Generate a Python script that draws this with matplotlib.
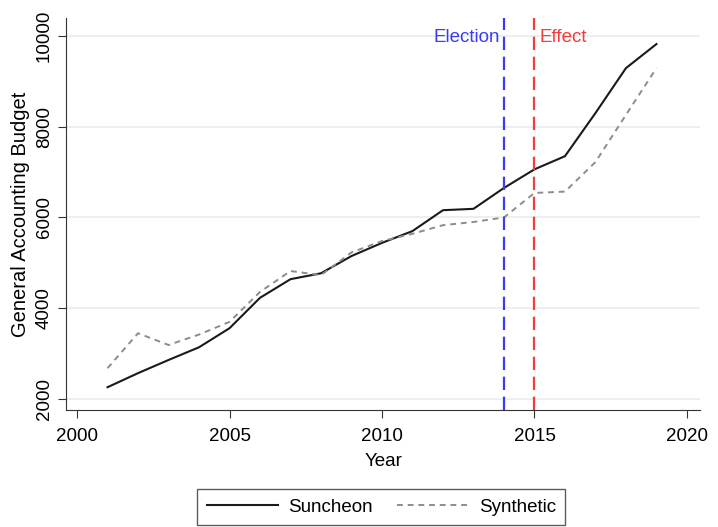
import matplotlib
matplotlib.use("Agg")
import matplotlib.pyplot as plt

plt.rcParams["font.family"] = ["Liberation Sans", "DejaVu Sans"]

years = list(range(2001, 2020))
suncheon = [2260, 2570, 2860, 3140, 3560, 4230, 4640, 4770, 5150, 5440,
            5700, 6160, 6190, 6650, 7060, 7350, 8300, 9290, 9820]
synthetic = [2680, 3450, 3190, 3420, 3700, 4360, 4820, 4730, 5230, 5480,
             5640, 5830, 5900, 6000, 6540, 6570, 7220, 8260, 9290]

election_year = 2014
effect_year = 2015

fig = plt.figure(figsize=(7.18, 5.27), dpi=100)
ax = fig.add_axes([0.092, 0.222, 0.883, 0.744])

ax.grid(axis="y", color="#e6eef0", linewidth=1.2)
ax.set_axisbelow(True)

ax.plot(years, suncheon, color="#1a1a1a", linewidth=1.5, label="Suncheon")
ax.plot(years, synthetic, color="#8c8c8c", linewidth=1.4, linestyle=(0, (3, 2.5)),
        label="Synthetic")

ax.axvline(election_year, color="#3b3bf5", linewidth=1.6, linestyle=(0, (6, 3)))
ax.axvline(effect_year, color="#f53b3b", linewidth=1.6, linestyle=(0, (6, 3)))
ax.text(election_year - 0.12, 9960, "Election", color="#3b3bf5", fontsize=13.5,
        ha="right", va="center")
ax.text(effect_year + 0.18, 9960, "Effect", color="#f53b3b", fontsize=13.5,
        ha="left", va="center")

ax.set_xlim(1999.64, 2020.43)
ax.set_ylim(1758, 10396)
ax.set_xticks([2000, 2005, 2010, 2015, 2020])
ax.set_yticks([2000, 4000, 6000, 8000, 10000])
ax.tick_params(axis="both", labelsize=13.5, color="#333333", length=6)
ax.tick_params(axis="x", pad=7)
for lab in ax.get_yticklabels():
    lab.set_rotation(90)
    lab.set_va("center")

ax.spines["top"].set_visible(False)
ax.spines["right"].set_visible(False)
ax.spines["left"].set_color("#333333")
ax.spines["bottom"].set_color("#333333")

ax.set_xlabel("Year", fontsize=13.5, labelpad=6)
ax.set_ylabel("General Accounting Budget", fontsize=14.5, labelpad=4)

leg = fig.legend(loc="center", bbox_to_anchor=(0.531, 0.038), ncol=2, fontsize=13.5,
                 frameon=True, fancybox=False, edgecolor="#333333",
                 handlelength=3.8, handletextpad=0.55, columnspacing=1.3,
                 borderpad=0.5)
leg.get_frame().set_linewidth(1.0)

fig.savefig("out.png", dpi=100)
